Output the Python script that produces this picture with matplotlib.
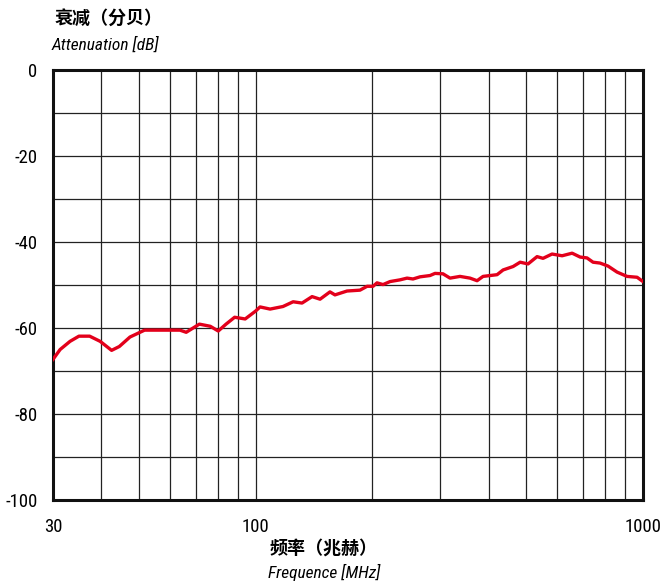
import matplotlib
matplotlib.use("Agg")
import matplotlib.pyplot as plt
from matplotlib import font_manager as fm
from matplotlib.ticker import FixedLocator, NullFormatter

freq_mhz = [30, 31.3, 33.2, 35.0, 37.3, 39.7, 42.5, 44.5, 47.4, 51.7, 56.5, 63.8, 66.2,
            71.6, 76.4, 80.1, 83.9, 88.3, 94.0, 99.9, 102.7, 109.0, 117.7, 125.0, 131.8,
            139.9, 146.7, 155.6, 160.3, 172.2, 186.0, 194.0, 201.0, 205.8, 213.3, 222.4,
            236.0, 246.0, 254.9, 265.8, 282.0, 290.5, 304.6, 317.6, 337.0, 357.7, 373.0,
            386.5, 403.0, 420.1, 435.4, 462.1, 481.8, 505.0, 532.8, 552.0, 582.4, 618.3,
            656.2, 688.2, 716.8, 743.1, 774.7, 812.4, 857.2, 909.4, 965.5, 1000]
atten_db = [-67.3, -65.0, -63.1, -61.9, -61.9, -63.1, -65.2, -64.3, -62.1, -60.5, -60.5,
            -60.5, -61.0, -59.1, -59.6, -60.7, -59.1, -57.5, -57.9, -56.1, -55.1, -55.6,
            -55.0, -53.9, -54.2, -52.7, -53.3, -51.6, -52.3, -51.4, -51.2, -50.3, -50.3,
            -49.5, -49.9, -49.2, -48.8, -48.4, -48.6, -48.1, -47.8, -47.3, -47.4, -48.4,
            -48.0, -48.4, -49.0, -48.0, -47.8, -47.6, -46.5, -45.7, -44.7, -45.1, -43.4,
            -43.8, -42.8, -43.2, -42.6, -43.5, -43.7, -44.7, -44.9, -45.6, -47.0, -48.0,
            -48.2, -49.2]

x_ticks = [30, 100, 1000]
x_tick_labels = ["30", "100", "1000"]
x_grid = [40, 50, 60, 70, 80, 90, 200, 300, 400, 500, 600, 700, 800, 900]
y_ticks = [0, -20, -40, -60, -80, -100]
y_grid = [-10, -30, -50, -70, -90]

cjk = ["Noto Sans CJK SC", "DejaVu Sans"]
names = {f.name for f in fm.fontManager.ttflist}
narrow_fam = "DejaVu Sans"
for cand in ["Liberation Sans Narrow", "Roboto Condensed", "Open Sans Condensed", "DejaVu Sans"]:
    if cand in names:
        narrow_fam = cand
        break
narrow = [narrow_fam, "DejaVu Sans"]
tick_font = fm.FontProperties(family=narrow, stretch="condensed", size=13.5)
lab_font = fm.FontProperties(family=narrow, stretch="condensed", style="italic", size=12.5)

fig = plt.figure(figsize=(6.63, 5.82), dpi=100)
ax = fig.add_axes([53/663, 1 - 500/582, 590/663, 430/582])
ax.set_xscale("log")
ax.set_xlim(30, 1000)
ax.set_ylim(-100, 0)

ax.xaxis.set_major_locator(FixedLocator(x_ticks))
ax.xaxis.set_minor_locator(FixedLocator(x_grid))
ax.xaxis.set_minor_formatter(NullFormatter())
ax.set_xticklabels(x_tick_labels)
ax.yaxis.set_major_locator(FixedLocator(y_ticks))
ax.yaxis.set_minor_locator(FixedLocator(y_grid))
ax.set_yticklabels([str(v) for v in y_ticks])

ax.grid(True, which="both", color="#222222", linewidth=0.9)
ax.tick_params(axis="y", which="both", length=0, pad=11)
ax.tick_params(axis="x", which="both", length=0, pad=13)
for lab in ax.get_xticklabels() + ax.get_yticklabels():
    lab.set_fontproperties(tick_font)
for s in ax.spines.values():
    s.set_linewidth(2.2)
    s.set_color("#111111")

ax.plot(freq_mhz, atten_db, color="#e3001b", linewidth=2.4, zorder=5)

fig.text(55/663, 1 - 19/582, "衰减（分贝）", family=cjk, fontsize=13, fontweight="bold",
         ha="left", va="center")
fig.text(52/663, 1 - 45/582, "Attenuation [dB]", fontproperties=lab_font,
         ha="left", va="center")
fig.text(324/663, 1 - 548/582, "频率（兆赫）", family=cjk, fontsize=13, fontweight="bold",
         ha="center", va="center")
fig.text(324/663, 1 - 572/582, "Frequence [MHz]", fontproperties=lab_font,
         ha="center", va="center")

fig.savefig("out.png", dpi=100)
